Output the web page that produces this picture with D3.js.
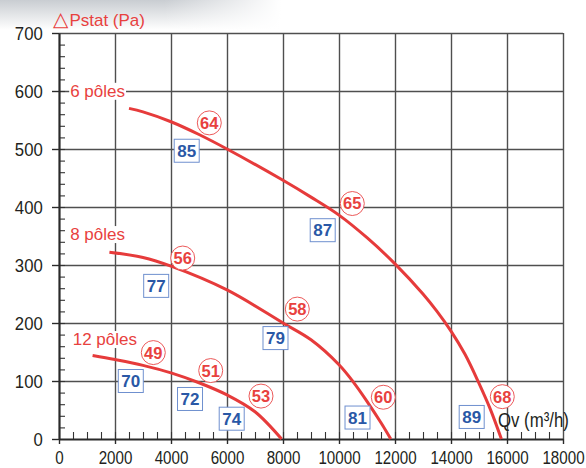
<!DOCTYPE html>
<html><head><meta charset="utf-8">
<script src="https://cdn.jsdelivr.net/npm/d3@7"></script>
<style>
html,body{margin:0;padding:0;background:#fff;}
svg{display:block;}
</style></head>
<body>
<script>
// ---- data ----
const xTicks = [0,2000,4000,6000,8000,10000,12000,14000,16000,18000];
const yTicks = [0,100,200,300,400,500,600,700];

const q6 = [2500,3000,4000,5000,6000,8000,9000,10000,11000,12000,13000,13500,14000,14500,15000,15400,15800];
const p6 = [570,564,547,525,500,446,417,386,347,302,250,220,186,146,96,52,0];
const q8 = [1800,3000,4000,6000,8000,9000,10000,10500,11000,11500,11850];
const p8 = [322,313,298,257,200,171,128,99,65,28,0];
const q12 = [1200,2000,3000,4000,5000,6000,7000,7950];
const p12 = [144,137,127,114,97,76,47,0];

const seriesNames = ["6 pôles","8 pôles","12 pôles"];
const seriesLabelQ = [400,400,490];
const seriesLabelP = [590,343,162];

// sound power (red circles) anchors in chart units
const lwLabels = ["64","65","68","56","58","60","49","51","53"];
const lwQ = [5368,10475,15832,4418,8511,11582,3368,5418,7214];
const lwP = [545,406,73,312,224,72,149,118,74];

// sound level (blue boxes) anchors in chart units
const lpLabels = ["85","87","89","77","79","81","70","72","74"];
const lpQ = [4561,9418,14739,3471,7732,10661,2564,4679,6168];
const lpP = [497,360,38,264,174,37,100,69,35];

const yTitle = "△Pstat (Pa)";
const xTitle = "Qv (m³/h)";

// ---- drawing ----
const W = 586, H = 468;
const svg = d3.select("body").append("svg").attr("width",W).attr("height",H);
const x = d3.scaleLinear().domain([0,18000]).range([59,563]);
const y = d3.scaleLinear().domain([0,700]).range([439,33]);

const defs = svg.append("defs");
const g1 = defs.append("linearGradient").attr("id","topg").attr("x1",0).attr("y1",0).attr("x2",0).attr("y2",1);
g1.append("stop").attr("offset","0%").attr("stop-color","#c9cdd2");
g1.append("stop").attr("offset","100%").attr("stop-color","#ffffff");
const g2 = defs.append("linearGradient").attr("id","sideg").attr("x1",0).attr("y1",0).attr("x2",1).attr("y2",0);
g2.append("stop").attr("offset","0%").attr("stop-color","#fff").attr("stop-opacity",0);
g2.append("stop").attr("offset","28%").attr("stop-color","#fff").attr("stop-opacity",0);
g2.append("stop").attr("offset","48%").attr("stop-color","#fff").attr("stop-opacity",1);
svg.append("rect").attr("width",W).attr("height",H).attr("fill","#fff");
svg.append("rect").attr("width",W).attr("height",30).attr("fill","url(#topg)");
svg.append("rect").attr("width",W).attr("height",30).attr("fill","url(#sideg)");

const gridColor = "#4f4f4f";
// horizontal grid
svg.append("g").attr("transform",`translate(${x(0)},0)`)
  .call(d3.axisRight(y).tickValues(yTicks.slice(1)).tickSize(x(18000)-x(0)).tickFormat(""))
  .call(g=>g.select(".domain").remove())
  .call(g=>g.selectAll("line").attr("stroke",gridColor).attr("stroke-width",1.4));
// vertical grid
svg.append("g").attr("transform",`translate(0,${y(0)})`)
  .call(d3.axisTop(x).tickValues(xTicks.slice(1)).tickSize(y(0)-y(700)).tickFormat(""))
  .call(g=>g.select(".domain").remove())
  .call(g=>g.selectAll("line").attr("stroke",gridColor).attr("stroke-width",1.4));

// minor ticks x (inside, every 500)
svg.append("g").attr("transform",`translate(0,${y(0)})`)
  .call(d3.axisTop(x).tickValues(d3.range(500,18000,500)).tickSize(7).tickFormat(""))
  .call(g=>g.select(".domain").remove())
  .call(g=>g.selectAll("line").attr("stroke","#333").attr("stroke-width",1.1));
// minor ticks y (inside, every 20)
svg.append("g").attr("transform",`translate(${x(0)},0)`)
  .call(d3.axisRight(y).tickValues(d3.range(20,700,20)).tickSize(6).tickFormat(""))
  .call(g=>g.select(".domain").remove())
  .call(g=>g.selectAll("line").attr("stroke","#333").attr("stroke-width",1.1));

// bottom axis
const xa = svg.append("g").attr("transform",`translate(0,${y(0)})`)
  .call(d3.axisBottom(x).tickValues(xTicks).tickSize(5).tickSizeOuter(0).tickFormat(d3.format("d")));
xa.select(".domain").attr("stroke","#2a2a2a").attr("stroke-width",2.2);
xa.selectAll("line").attr("stroke","#2a2a2a").attr("stroke-width",1.4);
xa.selectAll("text").attr("y",25.5).attr("dy",0)
  .attr("font-family","'Liberation Sans', Arial, sans-serif").attr("font-size",18.5)
  .attr("fill","#231f20").attr("transform","scale(0.82,1)");

// left axis
const ya = svg.append("g").attr("transform",`translate(${x(0)},0)`)
  .call(d3.axisLeft(y).tickValues(yTicks).tickSize(7).tickSizeOuter(0).tickFormat(d3.format("d")));
ya.select(".domain").attr("stroke","#2a2a2a").attr("stroke-width",2.2);
ya.selectAll("line").attr("stroke","#2a2a2a").attr("stroke-width",1.4);
ya.selectAll("text").attr("x",-18.5).attr("dy","0.36em")
  .attr("font-family","'Liberation Sans', Arial, sans-serif").attr("font-size",19)
  .attr("fill","#231f20").attr("transform","scale(0.88,1)");

// curves
const red = "#e63b3b";
const line = d3.line().x(d=>x(d[0])).y(d=>y(d[1])).curve(d3.curveCatmullRom.alpha(0.5));
[[q6,p6],[q8,p8],[q12,p12]].forEach(([q,p])=>{
  svg.append("path").attr("d",line(q.map((v,i)=>[v,p[i]])))
    .attr("fill","none").attr("stroke",red).attr("stroke-width",3);
});

// series labels with white background
seriesNames.forEach((n,i)=>{
  const g = svg.append("g");
  const t = g.append("text").attr("x",x(seriesLabelQ[i])).attr("y",y(seriesLabelP[i]))
    .attr("font-family","'Liberation Sans', Arial, sans-serif").attr("font-size",17)
    .attr("fill","#e8413e").text(n);
  const b = t.node().getBBox();
  g.insert("rect","text").attr("x",b.x-1).attr("y",b.y+1).attr("width",b.width+2).attr("height",b.height-2).attr("fill","#fff");
});

// y title
const yt = svg.append("text").attr("x",53).attr("y",26)
  .attr("font-family","'Liberation Sans', Arial, sans-serif").attr("font-size",17).attr("fill","#e8413e");
yt.append("tspan").attr("font-family","'DejaVu Sans', sans-serif").attr("font-size",20).text(yTitle.slice(0,1));
yt.append("tspan").attr("dx",1).text(yTitle.slice(1));

// x title
svg.append("text").attr("transform",`translate(498,427) scale(0.8,1)`)
  .attr("font-family","'Liberation Sans', Arial, sans-serif").attr("font-size",21)
  .attr("fill","#231f20").text(xTitle);

// red circles
lwLabels.forEach((l,i)=>{
  const cx = x(lwQ[i]), cy = y(lwP[i]);
  svg.append("circle").attr("cx",cx).attr("cy",cy).attr("r",12)
    .attr("fill","#fff").attr("stroke","#ec5a5a").attr("stroke-width",1);
  svg.append("text").attr("x",cx).attr("y",cy).attr("dy","0.36em").attr("text-anchor","middle")
    .attr("font-family","'Liberation Sans', Arial, sans-serif").attr("font-size",16.5).attr("font-weight","bold")
    .attr("fill","#e8413e").text(l);
});

// blue boxes
lpLabels.forEach((l,i)=>{
  const cx = x(lpQ[i]), cy = y(lpP[i]);
  svg.append("rect").attr("x",cx-12.5).attr("y",cy-11.5).attr("width",25).attr("height",23)
    .attr("fill","#fff").attr("stroke","#6f90cf").attr("stroke-width",1);
  svg.append("text").attr("x",cx).attr("y",cy).attr("dy","0.36em").attr("text-anchor","middle")
    .attr("font-family","'Liberation Sans', Arial, sans-serif").attr("font-size",17).attr("font-weight","bold")
    .attr("fill","#2a58a6").text(l);
});
</script>
</body></html>
